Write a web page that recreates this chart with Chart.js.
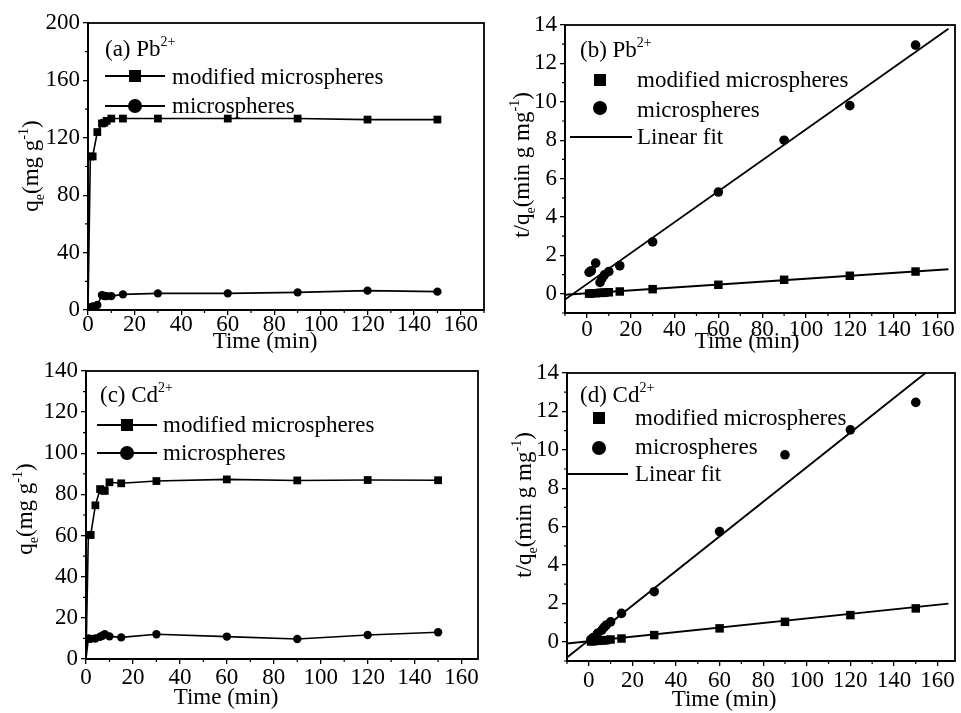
<!DOCTYPE html>
<html>
<head>
<meta charset="utf-8">
<script src="https://cdn.jsdelivr.net/npm/chart.js@4.4.0/dist/chart.umd.min.js"></script>
<style>
  html, body { margin: 0; padding: 0; background: #fff; }
  body { width: 961px; height: 713px; position: relative; overflow: hidden; }
  canvas { position: absolute; }
</style>
</head>
<body>
<canvas id="panelA" width="490" height="360" style="left:0;top:0"></canvas>
<canvas id="panelB" width="481" height="360" style="left:480px;top:0"></canvas>
<canvas id="panelC" width="490" height="358" style="left:0;top:355px"></canvas>
<canvas id="panelD" width="481" height="358" style="left:480px;top:355px"></canvas>
<script>
const FAMILY = "'Liberation Serif', 'Times New Roman', serif";

// contact time (min); q panels also start from the origin
const qTime = [0, 1, 2, 4, 6, 7, 8, 10, 15, 30, 60, 90, 120, 150];
const tqTime = [1, 2, 4, 6, 7, 8, 10, 15, 30, 60, 90, 120, 150];

// (a) Pb2+ uptake, qe (mg/g)
const qPbModified = [0, 107, 107, 124, 130, 130.5, 131.8, 133.4, 133.4, 133.4, 133.4, 133.4, 132.7, 132.7];
const qPbPlain = [0, 2, 2.5, 3.5, 10.4, 9.8, 9.7, 9.7, 10.9, 11.6, 11.6, 12.3, 13.5, 12.8];

// (b) Pb2+ t/qe (min g/mg)
const tqPbModified = [0.01, 0.02, 0.03, 0.05, 0.05, 0.06, 0.08, 0.12, 0.24, 0.47, 0.73, 0.94, 1.16];
const tqPbPlain = [1.12, 1.2, 1.6, 0.59, 0.82, 0.99, 1.16, 1.46, 2.7, 5.3, 8.0, 9.8, 12.95];

// (c) Cd2+ uptake, qe (mg/g)
const qCdModified = [0, 60.3, 60.3, 74.7, 82.6, 82.0, 81.7, 85.9, 85.4, 86.5, 87.3, 86.8, 87.0, 86.9];
const qCdPlain = [0, 10.0, 9.8, 10.0, 10.8, 11.3, 12.0, 11.0, 10.5, 12.0, 10.9, 9.7, 11.7, 13.0];

// (d) Cd2+ t/qe (min g/mg)
const tqCdModified = [0.02, 0.03, 0.05, 0.07, 0.08, 0.09, 0.12, 0.17, 0.35, 0.70, 1.04, 1.39, 1.74];
const tqCdPlain = [0.12, 0.22, 0.44, 0.61, 0.75, 0.87, 1.04, 1.48, 2.61, 5.74, 9.74, 11.04, 12.47];

// linear fit end points
const fitTime = [-10, 165];
const fitPbModified = [-0.05, 1.28];
const fitPbPlain = [-0.3, 13.8];
const fitCdModified = [-0.09, 1.99];
const fitCdPlain = [-0.82, 14.95];

// tick labels
const timeTicks = [0, 20, 40, 60, 80, 100, 120, 140, 160];
const qPbTicks = [0, 40, 80, 120, 160, 200];
const qCdTicks = [0, 20, 40, 60, 80, 100, 120, 140];
const tqTicks = [0, 2, 4, 6, 8, 10, 12, 14];

const legendModified = 'modified microspheres';
const legendPlain = 'microspheres';
const legendFit = 'Linear fit';

function pairs(xs, ys) {
    return xs.map((x, i) => ({ x: x, y: ys[i] }));
}

function drawRich(ctx, x, y, parts, size, align) {
    const fontFor = k => (k ? Math.round(size * 0.6) : size) + 'px ' + FAMILY;
    let w = 0;
    parts.forEach(([t, k]) => { ctx.font = fontFor(k); w += ctx.measureText(t).width; });
    let cx = align === 'center' ? x - w / 2 : x;
    ctx.textAlign = 'left';
    ctx.textBaseline = 'alphabetic';
    parts.forEach(([t, k]) => {
        ctx.font = fontFor(k);
        const dy = k === 'sub' ? size * 0.25 : k === 'sup' ? -size * 0.45 : 0;
        ctx.fillText(t, cx, y + dy);
        cx += ctx.measureText(t).width;
    });
}

function midpoints(values, lo, hi) {
    const step = values[1] - values[0];
    const out = [];
    for (let v = values[0] - step / 2; v <= hi; v += step) {
        if (v >= lo) out.push(v);
    }
    return out;
}

const decor = {
    id: 'decor',
    afterDraw(chart, args, o) {
        const { ctx, chartArea: a, scales: { x, y } } = chart;
        ctx.save();
        ctx.strokeStyle = '#000';
        ctx.fillStyle = '#000';
        ctx.lineWidth = 1.8;
        ctx.strokeRect(a.left, a.top, a.right - a.left, a.bottom - a.top);

        // minor ticks
        ctx.lineWidth = 1.2;
        ctx.beginPath();
        midpoints(o.xTicks, x.min, x.max).forEach(v => {
            const px = x.getPixelForValue(v);
            ctx.moveTo(px, a.bottom); ctx.lineTo(px, a.bottom + 3);
        });
        midpoints(o.yTicks, y.min, y.max).forEach(v => {
            const py = y.getPixelForValue(v);
            ctx.moveTo(a.left, py); ctx.lineTo(a.left - 3, py);
        });
        ctx.stroke();

        // panel tag
        drawRich(ctx, o.tag.x, o.tag.y, o.tag.parts, 23, 'left');

        // legend
        o.legend.forEach(row => {
            if (row.line) {
                ctx.lineWidth = 1.8;
                ctx.beginPath();
                ctx.moveTo(row.line[0], row.my); ctx.lineTo(row.line[1], row.my);
                ctx.stroke();
            }
            if (row.marker === 'rect') {
                ctx.fillRect(row.mx - 6, row.my - 6, 12, 12);
            } else if (row.marker === 'circle') {
                ctx.beginPath();
                ctx.arc(row.mx, row.my, 7, 0, Math.PI * 2);
                ctx.fill();
            }
            ctx.font = '23px ' + FAMILY;
            ctx.textAlign = 'left';
            ctx.textBaseline = 'alphabetic';
            ctx.fillText(row.text, row.tx, row.ty);
        });

        // axis titles
        drawRich(ctx, o.xTitle.x, o.xTitle.y, [['Time (min)']], 23, 'center');
        ctx.save();
        ctx.translate(o.yTitle.x, o.yTitle.y);
        ctx.rotate(-Math.PI / 2);
        drawRich(ctx, 0, 8, o.yTitle.parts, 23, 'center');
        ctx.restore();
        ctx.restore();
    }
};

function axis(range, ticks, fitSize, horizontal, pad) {
    return {
        type: 'linear',
        min: range[0],
        max: range[1],
        afterBuildTicks: s => { s.ticks = ticks.map(v => ({ value: v })); },
        afterFit: s => { if (horizontal) s.height = fitSize; else s.width = fitSize; },
        grid: { drawOnChartArea: false, drawTicks: true, tickLength: 5, color: '#000', lineWidth: 1.3 },
        border: { display: true, color: '#000', width: 1.8 },
        ticks: {
            color: '#000',
            padding: pad,
            maxRotation: 0,
            autoSkip: false,
            font: { family: FAMILY, size: 23, lineHeight: 1 }
        }
    };
}

function makePanel(id, p) {
    const canvas = document.getElementById(id);
    const w = canvas.width, h = canvas.height;
    return new Chart(canvas, {
        type: 'scatter',
        data: { datasets: p.datasets },
        options: {
            responsive: false,
            animation: false,
            events: [],
            layout: { padding: { left: 0, top: p.area.top, right: w - p.area.right, bottom: 0 } },
            scales: {
                x: axis(p.xRange, timeTicks, h - p.area.bottom, true, p.xPad),
                y: axis(p.yRange, p.yTicks, p.area.left, false, 3)
            },
            plugins: {
                legend: { display: false },
                tooltip: { enabled: false },
                decor: {
                    xTicks: timeTicks, yTicks: p.yTicks,
                    tag: p.tag, legend: p.legend, xTitle: p.xTitle, yTitle: p.yTitle
                }
            }
        },
        plugins: [decor]
    });
}

function kineticLine(xs, ys, style, r) {
    return {
        data: pairs(xs, ys),
        showLine: true,
        borderColor: '#000',
        borderWidth: 1.6,
        backgroundColor: '#000',
        pointStyle: style,
        pointRadius: c => (c.dataIndex === 0 ? 0 : r),
        pointBorderWidth: 0
    };
}

function points(xs, ys, style, r) {
    return {
        data: pairs(xs, ys),
        showLine: false,
        backgroundColor: '#000',
        borderColor: '#000',
        pointStyle: style,
        pointRadius: r,
        pointBorderWidth: 0
    };
}

function fitLine(ys) {
    return {
        data: pairs(fitTime, ys),
        showLine: true,
        borderColor: '#000',
        borderWidth: 1.9,
        pointRadius: 0
    };
}

const qTitle = [['q'], ['e', 'sub'], ['(mg g'], ['-1', 'sup'], [')']];
const tqTitle = [['t/q'], ['e', 'sub'], ['(min g mg'], ['-1', 'sup'], [')']];

makePanel('panelA', {
    area: { left: 88, top: 23, right: 484, bottom: 310 },
    xRange: [0, 170], yRange: [0, 200], yTicks: qPbTicks, xPad: -2,
    datasets: [
        kineticLine(qTime, qPbModified, 'rect', 5.5),
        kineticLine(qTime, qPbPlain, 'circle', 4.2)
    ],
    tag: { x: 105, y: 56, parts: [['(a) Pb'], ['2+', 'sup']] },
    legend: [
        { line: [105, 165], marker: 'rect', mx: 135, my: 76, text: legendModified, tx: 172, ty: 84 },
        { line: [105, 165], marker: 'circle', mx: 135, my: 106, text: legendPlain, tx: 172, ty: 113 }
    ],
    xTitle: { x: 265, y: 348 },
    yTitle: { x: 30, y: 166, parts: qTitle }
});

makePanel('panelB', {
    area: { left: 85, top: 25, right: 480, bottom: 313 },
    xRange: [-10, 168], yRange: [-1, 14], yTicks: tqTicks, xPad: 0,
    datasets: [
        fitLine(fitPbModified),
        fitLine(fitPbPlain),
        points(tqTime, tqPbModified, 'rect', 6),
        points(tqTime, tqPbPlain, 'circle', 4.8)
    ],
    tag: { x: 100, y: 57, parts: [['(b) Pb'], ['2+', 'sup']] },
    legend: [
        { marker: 'rect', mx: 120, my: 80, text: legendModified, tx: 157, ty: 87 },
        { marker: 'circle', mx: 120, my: 108, text: legendPlain, tx: 157, ty: 117 },
        { line: [90, 152], my: 137, text: legendFit, tx: 157, ty: 144 }
    ],
    xTitle: { x: 267, y: 348 },
    yTitle: { x: 41, y: 165, parts: tqTitle }
});

makePanel('panelC', {
    area: { left: 86, top: 16, right: 478, bottom: 304 },
    xRange: [0, 167], yRange: [0, 140], yTicks: qCdTicks, xPad: 2,
    datasets: [
        kineticLine(qTime, qCdModified, 'rect', 5.5),
        kineticLine(qTime, qCdPlain, 'circle', 4.2)
    ],
    tag: { x: 100, y: 47, parts: [['(c) Cd'], ['2+', 'sup']] },
    legend: [
        { line: [97, 157], marker: 'rect', mx: 127, my: 70, text: legendModified, tx: 163, ty: 77 },
        { line: [97, 157], marker: 'circle', mx: 127, my: 98, text: legendPlain, tx: 163, ty: 105 }
    ],
    xTitle: { x: 226, y: 349 },
    yTitle: { x: 24, y: 154, parts: qTitle }
});

makePanel('panelD', {
    area: { left: 87, top: 18, right: 480, bottom: 306 },
    xRange: [-10, 168], yRange: [-1, 14], yTicks: tqTicks, xPad: 3,
    datasets: [
        fitLine(fitCdModified),
        fitLine(fitCdPlain),
        points(tqTime, tqCdModified, 'rect', 6),
        points(tqTime, tqCdPlain, 'circle', 4.8)
    ],
    tag: { x: 100, y: 47, parts: [['(d) Cd'], ['2+', 'sup']] },
    legend: [
        { marker: 'rect', mx: 119, my: 63, text: legendModified, tx: 155, ty: 70 },
        { marker: 'circle', mx: 119, my: 93, text: legendPlain, tx: 155, ty: 99 },
        { line: [88, 148], my: 119, text: legendFit, tx: 155, ty: 126 }
    ],
    xTitle: { x: 244, y: 351 },
    yTitle: { x: 43, y: 150, parts: tqTitle }
});
</script>
</body>
</html>
